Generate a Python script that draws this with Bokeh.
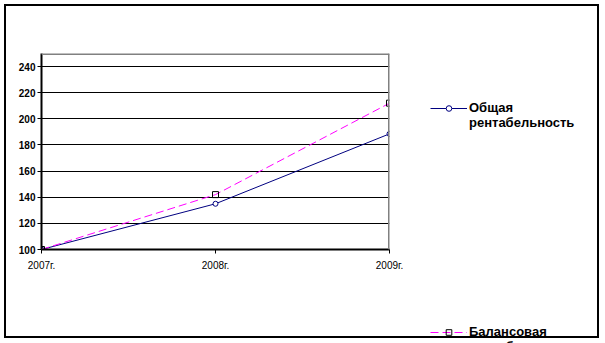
from bokeh.plotting import figure
from bokeh.models import (Range1d, FixedTicker, Span, Legend, LegendItem)
from bokeh.embed import file_html
from bokeh.resources import INLINE

years = ["2007г.", "2008г.", "2009г."]
x_pos = [0, 1, 2]
obshaya = [100, 135, 188.5]
balans = [100, 142, 212]
y_ticks = [100, 120, 140, 160, 180, 200, 220, 240]
series_names = ["Общая\nрентабельность", "Балансовая\nрентабельность"]

p = figure(frame_width=348, frame_height=196, output_backend="svg", toolbar_location=None,
           x_range=Range1d(0, 2), y_range=Range1d(100, 250),
           min_border_left=41, min_border_right=216, min_border_top=53, min_border_bottom=94)
p.outline_line_color = None
p.background_fill_color = "white"
p.border_fill_alpha = 0
# outer chart-area frame, drawn as fixed-pixel CSS background strokes
frame_css = ("linear-gradient(#000,#000) 4px 4px / 595px 2px no-repeat, "
             "linear-gradient(#000,#000) 4px 336px / 595px 2px no-repeat, "
             "linear-gradient(#000,#000) 4px 4px / 2px 334px no-repeat, "
             "linear-gradient(#000,#000) 597px 4px / 2px 334px no-repeat, white")
p.styles = {"background": frame_css}

p.xaxis.ticker = FixedTicker(ticks=x_pos)
p.xaxis.major_label_overrides = {i: s for i, s in zip(x_pos, years)}
p.yaxis.ticker = FixedTicker(ticks=y_ticks)
for ax in (p.xaxis[0], p.yaxis[0]):
    ax.axis_line_color = "black"
    ax.axis_line_width = 2
    ax.major_tick_line_color = "black"
    ax.major_tick_in = 0
    ax.major_tick_out = 4
    ax.minor_tick_line_color = None
    ax.major_label_text_font = "Liberation Sans"
    ax.major_label_text_color = "black"
p.yaxis.major_label_text_font_size = "10px"
p.yaxis.major_label_text_font_style = "bold"
p.yaxis.major_label_standoff = 2
p.xaxis.major_label_text_font_size = "10px"
p.xaxis.major_label_standoff = 6

p.xgrid.grid_line_color = None
p.ygrid.grid_line_color = "black"
p.ygrid.grid_line_width = 1

p.add_layout(Span(location=250, dimension="width", line_color="#808080", line_width=3))
p.add_layout(Span(location=2, dimension="height", line_color="#808080", line_width=3))

l1 = p.line(x_pos, obshaya, line_color="#000080", line_width=1)
s1 = p.scatter(x_pos, obshaya, marker="circle", size=5, line_color="#000080", fill_color="white")
l2 = p.line(x_pos, balans, line_color="#FF00FF", line_width=1, line_dash="8 4")
s2 = p.scatter(x_pos, balans, marker="square", size=6, line_color="black", fill_color=None)

# leading blank line puts the glyph level with the first line of each label
legend = Legend(items=[LegendItem(label="\n" + series_names[0], renderers=[l1, s1]),
                       LegendItem(label="\n" + series_names[1], renderers=[l2, s2])],
                location=(41, -105), orientation="vertical",
                glyph_width=37, glyph_height=14, label_height=14, spacing=179,
                padding=0, margin=0, label_standoff=2,
                border_line_color=None, background_fill_alpha=0,
                label_text_font="Liberation Sans", label_text_font_size="13px",
                label_text_font_style="bold", label_text_color="black",
                label_text_line_height=1.4)
p.add_layout(legend, "right")

open("out.html", "w").write(file_html(p, INLINE))
